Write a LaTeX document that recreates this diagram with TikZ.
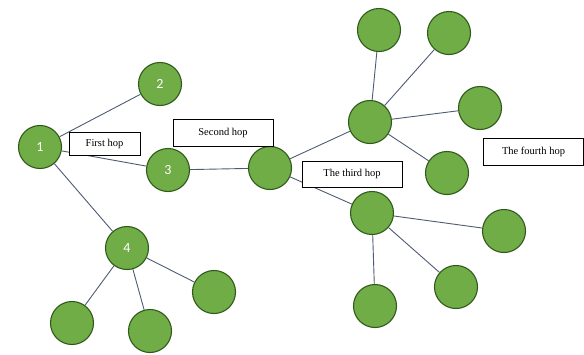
\documentclass[tikz,border=0pt]{standalone}
\usepackage{fontspec}
\setmainfont{Liberation Serif}
\newfontfamily\numfont{Carlito}
\definecolor{nodegreen}{HTML}{70AD47}
\definecolor{nodeborder}{HTML}{2F5A1A}
\definecolor{edgecol}{HTML}{4F5B73}
\begin{document}
\begin{tikzpicture}[x=1pt,y=-1pt,
  hop/.style={circle,draw=nodeborder,line width=1.1pt,fill=nodegreen,minimum size=43pt,inner sep=0pt,text=white,font=\numfont\fontsize{14}{14}\selectfont},
  lbl/.style={draw=black,line width=1pt,fill=white,inner sep=0pt,font=\fontsize{10.5}{12}\selectfont},
  edge/.style={draw=edgecol,line width=0.9pt}]
\useasboundingbox (0,0) rectangle (584,354);
% nodes
\node[hop] (n1) at (40,147) {1};
\node[hop] (n2) at (160,84) {2};
\node[hop] (n3) at (168,170) {3};
\node[hop] (c) at (270,168) {};
\node[hop] (n4) at (127,248) {4};
\node[hop] (a1) at (72,323) {};
\node[hop] (a2) at (150,331) {};
\node[hop] (a3) at (214,292) {};
\node[hop] (u) at (370,122) {};
\node[hop] (u1) at (379,30) {};
\node[hop] (u2) at (449,33) {};
\node[hop] (u3) at (480,108) {};
\node[hop] (u4) at (447,173) {};
\node[hop] (l) at (372,213) {};
\node[hop] (l1) at (504,231) {};
\node[hop] (l2) at (456,287) {};
\node[hop] (l3) at (375,306) {};
% edges
\draw[edge] (n1) -- (n2);
\draw[edge] (n1) -- (n3);
\draw[edge] (n1) -- (n4);
\draw[edge] (n3) -- (c);
\draw[edge] (n4) -- (a1);
\draw[edge] (n4) -- (a2);
\draw[edge] (n4) -- (a3);
\draw[edge] (c) -- (u);
\draw[edge] (c) -- (l);
\draw[edge] (u) -- (u1);
\draw[edge] (u) -- (u2);
\draw[edge] (u) -- (u3);
\draw[edge] (u) -- (u4);
\draw[edge] (l) -- (l1);
\draw[edge] (l) -- (l2);
\draw[edge] (l) -- (l3);
% labels
\node[lbl,minimum width=71pt,minimum height=23pt] (t1) at (104.5,143.5) {First hop};
\node[lbl,minimum width=100pt,minimum height=27pt] (t2) at (223,132.5) {Second hop};
\node[lbl,minimum width=100pt,minimum height=26pt] (t3) at (352,174) {The third hop};
\node[lbl,minimum width=100pt,minimum height=27pt] (t4) at (533.5,151.5) {The fourth hop};
\end{tikzpicture}
\end{document}
